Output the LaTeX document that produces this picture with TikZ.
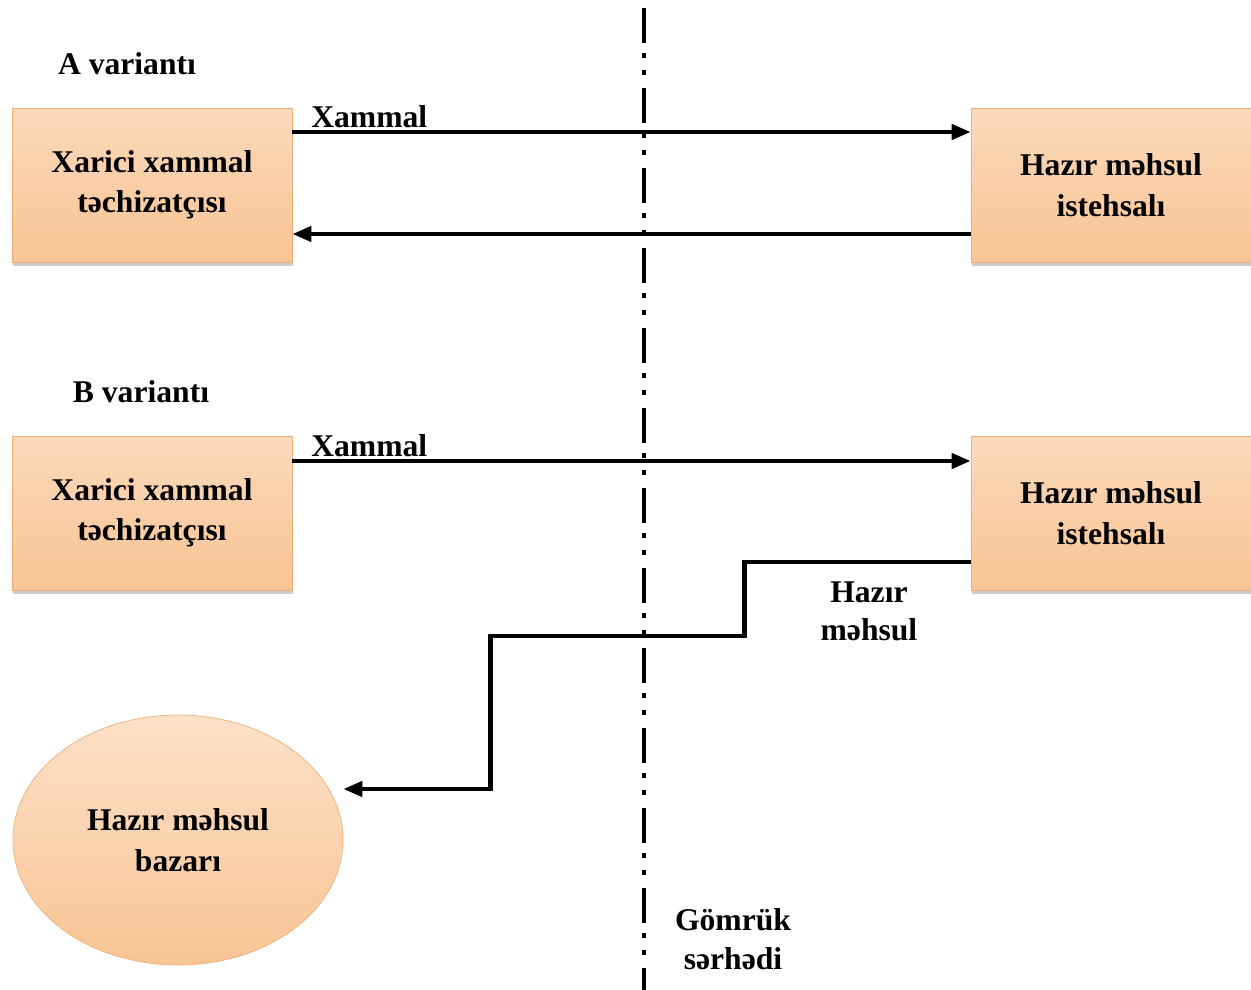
\documentclass[tikz,border=0pt]{standalone}
\usepackage{fontspec}
\setmainfont{Liberation Serif}
\usepackage{tikz}
\usetikzlibrary{arrows.meta,shadows,shapes.geometric}

\definecolor{peachtop}{HTML}{FBD9BB}
\definecolor{peachbot}{HTML}{F9C494}
\definecolor{peachline}{HTML}{EFAE76}

\tikzset{
	partybox/.style={rectangle,minimum width=5.6cm,minimum height=3.08cm,
		top color=peachtop,bottom color=peachbot,draw=peachline,thin,
		drop shadow={shadow xshift=0.6pt,shadow yshift=-2.5pt,opacity=0.4},
		align=center,font=\fontsize{18}{23}\selectfont\bfseries},
	marketshape/.style={ellipse,minimum width=6.6cm,minimum height=5cm,
		top color=peachtop!80!white,bottom color=peachbot,draw=peachline,thin,
		align=center,font=\fontsize{18}{23}\selectfont\bfseries},
	caption/.style={align=center,font=\fontsize{18}{22}\selectfont\bfseries},
	flow/.style={line width=2.5pt,-{Triangle[length=0.38cm,width=0.3cm]}},
	border/.style={line width=2.5pt,dash pattern=on 0.7cm off 0.2cm on 0.1cm off 0.24cm on 0.1cm off 0.26cm}
}

\begin{document}
\begin{tikzpicture}
		\useasboundingbox (0,0) rectangle (25.02,-19.8);
		% customs border
		\coordinate (bordertop) at (12.88,-0.16);
		\coordinate (borderbot) at (12.88,-19.8);
		\draw[border] (bordertop) -- (borderbot);
		\node[caption] (customs) at (14.66,-18.78) {Gömrük\\sərhədi};
		% variant A
		\node[caption] (varA) at (2.54,-1.28) {A variantı};
		\node[partybox] (supA) at (3.04,-3.70) {Xarici xammal\\təchizatçısı};
		\node[partybox] (prodA) at (22.22,-3.70) {Hazır məhsul\\istehsalı};
		\draw[flow] ([yshift=1.06cm]supA.east) -- ([yshift=1.06cm]prodA.west)
			node[pos=0,above right,caption,inner sep=1pt,xshift=0.3cm] (rawA) {Xammal};
		\draw[flow] ([yshift=-0.98cm]prodA.west) -- ([yshift=-0.98cm]supA.east);
		% variant B
		\node[caption] (varB) at (2.82,-7.84) {B variantı};
		\node[partybox] (supB) at (3.04,-10.26) {Xarici xammal\\təchizatçısı};
		\node[partybox] (prodB) at (22.22,-10.26) {Hazır məhsul\\istehsalı};
		\draw[flow] ([yshift=1.04cm]supB.east) -- ([yshift=1.04cm]prodB.west)
			node[pos=0,above right,caption,inner sep=1pt,xshift=0.3cm] (rawB) {Xammal};
		% market
		\node[marketshape] (mkt) at (3.56,-16.8) {Hazır məhsul\\bazarı};
		\coordinate (mktin) at ([yshift=1.02cm]mkt.east);
		\draw[flow] ([yshift=-0.98cm]prodB.west) -- ++(-4.52,0)
			node[pos=0.45,below,caption,inner sep=3pt,yshift=-0.24cm] (goods) {Hazır\\məhsul}
			-- ++(0,-1.48) -- ++(-5.08,0) |- (mktin);
	\end{tikzpicture}
\end{document}
